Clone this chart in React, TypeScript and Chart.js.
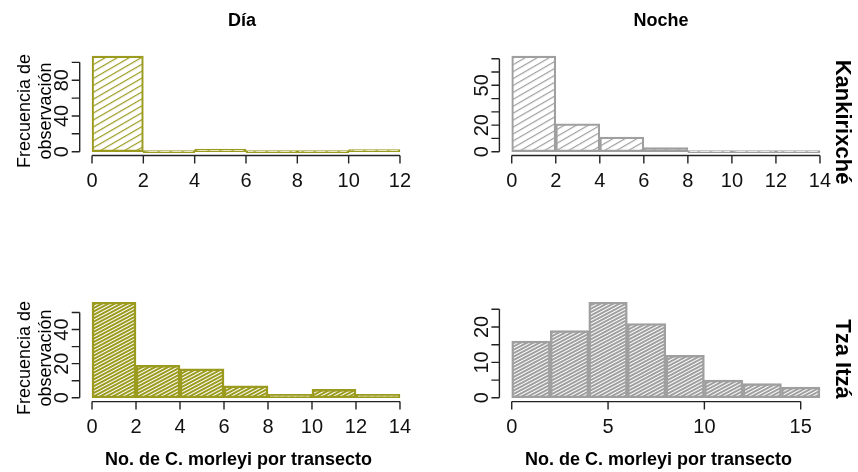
import React, { useEffect, useRef } from "react";
import { Chart, registerables } from "chart.js";

Chart.register(...registerables);

// ---------- text ----------
const colTitles = ["Día", "Noche"];
const rowTitles = ["Kankirixché", "Tza Itzá"];
const yTitleLines = ["Frecuencia de", "observación"];
const xTitle = "No. de C. morleyi por transecto";

// ---------- data (bin edges and counts) ----------
const diaKanBreaks = [0, 2, 4, 6, 8, 10, 12];
const diaKanCounts = [107, 0, 3, 0, 0, 1];

const nocheKanBreaks = [0, 2, 4, 6, 8, 10, 12, 14];
const nocheKanCounts = [72, 21, 11, 3, 0, 0, 0];

const diaTzaBreaks = [0, 2, 4, 6, 8, 10, 12, 14];
const diaTzaCounts = [56, 19, 17, 7, 2, 5, 2];

const nocheTzaBreaks = [0, 2, 4, 6, 8, 10, 12, 14, 16];
const nocheTzaCounts = [16, 19, 27, 21, 12, 5, 4, 3];

// ---------- ticks ----------
const diaKanXTicks = [0, 2, 4, 6, 8, 10, 12];
const diaKanYTicks = [0, 20, 40, 60, 80, 100];
const diaKanYLabels = ["0", "", "40", "", "80", ""];

const nocheKanXTicks = [0, 2, 4, 6, 8, 10, 12, 14];
const nocheKanYTicks = [0, 10, 20, 30, 40, 50, 60, 70];
const nocheKanYLabels = ["0", "", "20", "", "", "50", "", ""];

const diaTzaXTicks = [0, 2, 4, 6, 8, 10, 12, 14];
const diaTzaYTicks = [0, 10, 20, 30, 40, 50];
const diaTzaYLabels = ["0", "", "20", "", "40", ""];

const nocheTzaXTicks = [0, 5, 10, 15];
const nocheTzaYTicks = [0, 5, 10, 15, 20, 25];
const nocheTzaYLabels = ["0", "", "10", "", "20", ""];

// ---------- styles ----------
const OLIVE = "#9b9b1f";
const GRAY = "#9f9f9f";
const AXIS = "#222";
const FONT = '"Liberation Sans", Arial, sans-serif';

type Panel = {
  breaks: number[];
  counts: number[];
  xTicks: number[];
  yTicks: number[];
  yLabels: string[];
  color: string;
  dense: boolean;
  pad: { left: number; top: number; right: number; bottom: number };
};

const COL1 = { left: 79.7, right: 445.7 };
const COL2 = { left: 499.4, right: 25.7 };
const ROW1 = { top: 52.3, bottom: 316.5 };
const ROW2 = { top: 298.4, bottom: 70.4 };

const panels: Panel[] = [
  { breaks: diaKanBreaks, counts: diaKanCounts, xTicks: diaKanXTicks, yTicks: diaKanYTicks, yLabels: diaKanYLabels, color: OLIVE, dense: false, pad: { ...COL1, ...ROW1 } },
  { breaks: nocheKanBreaks, counts: nocheKanCounts, xTicks: nocheKanXTicks, yTicks: nocheKanYTicks, yLabels: nocheKanYLabels, color: GRAY, dense: false, pad: { ...COL2, ...ROW1 } },
  { breaks: diaTzaBreaks, counts: diaTzaCounts, xTicks: diaTzaXTicks, yTicks: diaTzaYTicks, yLabels: diaTzaYLabels, color: OLIVE, dense: true, pad: { ...COL1, ...ROW2 } },
  { breaks: nocheTzaBreaks, counts: nocheTzaCounts, xTicks: nocheTzaXTicks, yTicks: nocheTzaYTicks, yLabels: nocheTzaYLabels, color: GRAY, dense: true, pad: { ...COL2, ...ROW2 } },
];

function makeHatch(color: string, spacing: number, lw: number, angle: number) {
  const c = document.createElement("canvas");
  c.width = 20;
  c.height = spacing;
  const g = c.getContext("2d")!;
  g.fillStyle = color;
  g.fillRect(0, 0, 20, lw);
  const pat = g.createPattern(c, "repeat")!;
  pat.setTransform(new DOMMatrix().rotateSelf(-angle));
  return pat;
}

function axisPlugin(p: Panel) {
  return {
    id: "rAxes",
    afterDraw(chart: any) {
      const ctx = chart.ctx as CanvasRenderingContext2D;
      const xs = chart.scales.x;
      const ys = chart.scales.y;
      const a = chart.chartArea;
      ctx.save();
      ctx.strokeStyle = AXIS;
      ctx.fillStyle = "#111";
      ctx.lineWidth = 1.4;
      ctx.font = `20px ${FONT}`;
      ctx.textAlign = "center";
      ctx.textBaseline = "middle";
      // x axis
      const xt = xs.ticks.map((t: any) => t.value);
      const yb = a.bottom;
      ctx.beginPath();
      ctx.moveTo(xs.getPixelForValue(xt[0]), yb);
      ctx.lineTo(xs.getPixelForValue(xt[xt.length - 1]), yb);
      xt.forEach((v: number) => {
        const px = xs.getPixelForValue(v);
        ctx.moveTo(px, yb);
        ctx.lineTo(px, yb + 8);
      });
      ctx.stroke();
      xt.forEach((v: number) => {
        ctx.fillText(String(v), xs.getPixelForValue(v), yb + 26);
      });
      // y axis
      const yt = ys.ticks.map((t: any) => t.value);
      const xl = a.left;
      ctx.beginPath();
      ctx.moveTo(xl, ys.getPixelForValue(yt[0]));
      ctx.lineTo(xl, ys.getPixelForValue(yt[yt.length - 1]));
      yt.forEach((v: number) => {
        const py = ys.getPixelForValue(v);
        ctx.moveTo(xl, py);
        ctx.lineTo(xl - 8, py);
      });
      ctx.stroke();
      yt.forEach((v: number) => {
        const lab = p.yLabels[p.yTicks.indexOf(v)];
        if (!lab) return;
        ctx.save();
        ctx.translate(xl - 17, ys.getPixelForValue(v));
        ctx.rotate(-Math.PI / 2);
        ctx.fillText(lab, 0, 0);
        ctx.restore();
      });
      ctx.restore();
    },
  };
}

function buildChart(canvas: HTMLCanvasElement, p: Panel) {
  const xMin = p.breaks[0];
  const xMax = p.breaks[p.breaks.length - 1];
  const xr = xMax - xMin;
  const yMax = Math.max(...p.counts);
  const data = p.counts.map((c, i) => ({ x: (p.breaks[i] + p.breaks[i + 1]) / 2, y: c }));
  const pattern = p.dense ? makeHatch(p.color, 3, 2, 28) : makeHatch(p.color, 6, 1.2, 30);
  return new Chart(canvas, {
    type: "bar",
    data: {
      datasets: [
        {
          data: data as any,
          backgroundColor: pattern as any,
          borderColor: p.color,
          borderWidth: p.dense ? 1.8 : 1.5,
          borderSkipped: false,
          minBarLength: 2,
          barPercentage: 1,
          categoryPercentage: 1,
        },
      ],
    },
    options: {
      responsive: false,
      animation: false,
      events: [],
      layout: { padding: p.pad },
      plugins: { legend: { display: false }, tooltip: { enabled: false }, title: { display: false } },
      scales: {
        x: {
          type: "linear",
          display: false,
          offset: false,
          grid: { offset: false },
          min: xMin - 0.04 * xr,
          max: xMax + 0.04 * xr,
          ticks: { autoSkip: false },
          afterBuildTicks: (s: any) => {
            s.ticks = p.xTicks.map((v) => ({ value: v }));
          },
        },
        y: {
          type: "linear",
          display: false,
          min: -0.04 * yMax,
          max: 1.04 * yMax,
          ticks: { autoSkip: false },
          afterBuildTicks: (s: any) => {
            s.ticks = p.yTicks.map((v) => ({ value: v }));
          },
        },
      },
    } as any,
    plugins: [axisPlugin(p)],
  });
}

function Txt(props: { x: number; y: number; rot?: number; size: number; bold?: boolean; children: React.ReactNode; lh?: string }) {
  return (
    <div
      style={{
        position: "absolute",
        left: props.x,
        top: props.y,
        transform: `translate(-50%,-50%) rotate(${props.rot || 0}deg)`,
        fontSize: props.size,
        fontWeight: props.bold ? "bold" : "normal",
        whiteSpace: "nowrap",
        textAlign: "center",
        lineHeight: props.lh || "1.15",
        color: "#000",
      }}
    >
      {props.children}
    </div>
  );
}

export default function App() {
  const canvases = useRef<(HTMLCanvasElement | null)[]>([]);
  useEffect(() => {
    const charts = panels.map((p, i) => buildChart(canvases.current[i]!, p));
    return () => charts.forEach((c) => c.destroy());
  }, []);
  return (
    <div
      style={{
        position: "absolute",
        left: 0,
        top: 0,
        width: 858,
        height: 472,
        background: "#fff",
        overflow: "hidden",
        fontFamily: FONT,
      }}
    >
      {panels.map((_, i) => (
        <canvas
          key={i}
          ref={(el) => {
            canvases.current[i] = el;
          }}
          width={858}
          height={472}
          style={{ position: "absolute", left: 0, top: 0, width: 858, height: 472 }}
        />
      ))}
      <Txt x={242} y={20} size={18} bold>{colTitles[0]}</Txt>
      <Txt x={661} y={20} size={18} bold>{colTitles[1]}</Txt>
      <Txt x={843} y={122} size={22} bold rot={90}>{rowTitles[0]}</Txt>
      <Txt x={843} y={359} size={22} bold rot={90}>{rowTitles[1]}</Txt>
      <Txt x={34.5} y={111} size={18} rot={-90} lh="21px">
        {yTitleLines[0]}
        <br />
        {yTitleLines[1]}
      </Txt>
      <Txt x={34.5} y={358} size={18} rot={-90} lh="21px">
        {yTitleLines[0]}
        <br />
        {yTitleLines[1]}
      </Txt>
      <Txt x={238.5} y={459} size={18} bold>{xTitle}</Txt>
      <Txt x={658.5} y={459} size={18} bold>{xTitle}</Txt>
    </div>
  );
}
